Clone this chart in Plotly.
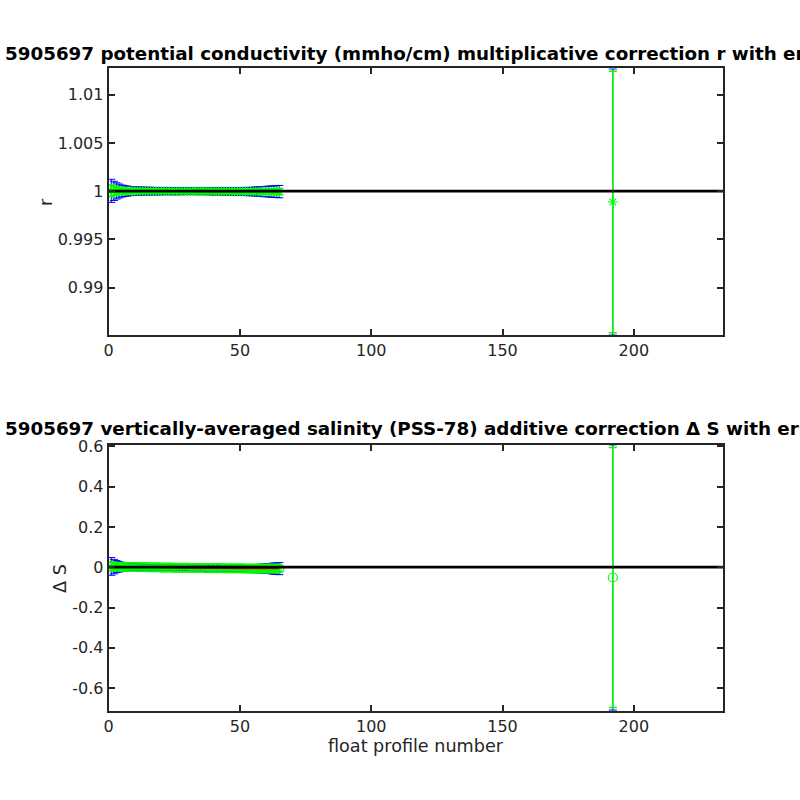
import plotly.graph_objects as go

# ---------------- data ----------------
profiles = [1, 2, 3, 4, 5, 6, 7, 8, 9, 10, 11, 12, 13, 14, 15, 16, 17, 18, 19, 20,
            21, 22, 23, 24, 25, 26, 27, 28, 29, 30, 31, 32, 33, 34, 35, 36, 37, 38, 39, 40,
            41, 42, 43, 44, 45, 46, 47, 48, 49, 50, 51, 52, 53, 54, 55, 56, 57, 58, 59, 60,
            61, 62, 63, 64, 65, 192]

r_factor = [1.00004, 1.00003, 1.00003, 1.00002, 1.00002, 1.00002, 1.00001, 1.00002, 1.00001, 1.00001,
            1.00001, 1.00002, 1.00001, 1.00001, 1.00000, 1.00001, 1.00001, 1.00000, 1.00001, 1.00000,
            1.00000, 1.00001, 1.00000, 0.99999, 1.00000, 1.00000, 0.99999, 1.00000, 0.99999, 0.99999,
            1.00000, 0.99999, 0.99999, 0.99998, 0.99999, 0.99999, 0.99998, 0.99999, 0.99998, 0.99998,
            0.99999, 0.99998, 0.99998, 0.99997, 0.99998, 0.99998, 0.99997, 0.99998, 0.99997, 0.99997,
            0.99998, 0.99997, 0.99997, 0.99996, 0.99997, 0.99997, 0.99996, 0.99997, 0.99996, 0.99996,
            0.99997, 0.99996, 0.99996, 0.99996, 0.99996, 0.99888]

r_err = [0.00060, 0.00050, 0.00042, 0.00036, 0.00031, 0.00028, 0.00026, 0.00024, 0.00023, 0.00022,
         0.00022, 0.00021, 0.00021, 0.00020, 0.00020, 0.00020, 0.00019, 0.00019, 0.00019, 0.00019,
         0.00018, 0.00018, 0.00018, 0.00018, 0.00018, 0.00018, 0.00018, 0.00017, 0.00017, 0.00017,
         0.00017, 0.00017, 0.00017, 0.00017, 0.00017, 0.00017, 0.00017, 0.00017, 0.00018, 0.00018,
         0.00018, 0.00018, 0.00018, 0.00018, 0.00019, 0.00019, 0.00019, 0.00019, 0.00020, 0.00020,
         0.00020, 0.00021, 0.00021, 0.00022, 0.00022, 0.00023, 0.00024, 0.00025, 0.00026, 0.00027,
         0.00028, 0.00029, 0.00030, 0.00031, 0.00032, 0.01356]

r_err_blue = [0.00120, 0.00100, 0.00084, 0.00072, 0.00062, 0.00056, 0.00052, 0.00048, 0.00046, 0.00044,
              0.00044, 0.00042, 0.00042, 0.00040, 0.00040, 0.00040, 0.00038, 0.00038, 0.00038, 0.00038,
              0.00036, 0.00036, 0.00036, 0.00036, 0.00036, 0.00036, 0.00036, 0.00034, 0.00034, 0.00034,
              0.00034, 0.00034, 0.00034, 0.00034, 0.00034, 0.00034, 0.00034, 0.00034, 0.00036, 0.00036,
              0.00036, 0.00036, 0.00036, 0.00036, 0.00038, 0.00038, 0.00038, 0.00038, 0.00040, 0.00040,
              0.00040, 0.00042, 0.00042, 0.00044, 0.00044, 0.00046, 0.00048, 0.00050, 0.00052, 0.00054,
              0.00056, 0.00058, 0.00060, 0.00062, 0.00064, 0.01380]

dS = [0.004, 0.003, 0.003, 0.002, 0.002, 0.002, 0.001, 0.001, 0.001, 0.001,
      0.000, 0.000, 0.000, 0.000, -0.001, -0.001, -0.001, -0.001, -0.001, -0.002,
      -0.002, -0.002, -0.002, -0.002, -0.003, -0.003, -0.003, -0.003, -0.003, -0.003,
      -0.004, -0.004, -0.004, -0.004, -0.004, -0.004, -0.005, -0.005, -0.005, -0.005,
      -0.005, -0.005, -0.005, -0.006, -0.006, -0.006, -0.006, -0.006, -0.006, -0.006,
      -0.006, -0.007, -0.007, -0.007, -0.007, -0.007, -0.007, -0.007, -0.007, -0.007,
      -0.007, -0.007, -0.007, -0.007, -0.007, -0.051]

dS_err = [0.022, 0.018, 0.015, 0.013, 0.011, 0.010, 0.009, 0.009, 0.008, 0.008,
          0.008, 0.008, 0.007, 0.007, 0.007, 0.007, 0.007, 0.007, 0.007, 0.007,
          0.007, 0.007, 0.007, 0.007, 0.007, 0.007, 0.007, 0.007, 0.007, 0.007,
          0.007, 0.007, 0.007, 0.007, 0.007, 0.007, 0.007, 0.007, 0.007, 0.007,
          0.007, 0.007, 0.007, 0.007, 0.007, 0.008, 0.008, 0.008, 0.008, 0.008,
          0.008, 0.009, 0.009, 0.009, 0.010, 0.010, 0.010, 0.011, 0.011, 0.012,
          0.012, 0.013, 0.014, 0.014, 0.015, 0.645]

dS_err_blue = [0.044, 0.036, 0.030, 0.026, 0.022, 0.020, 0.018, 0.018, 0.016, 0.016,
               0.016, 0.016, 0.014, 0.014, 0.014, 0.014, 0.014, 0.014, 0.014, 0.014,
               0.014, 0.014, 0.014, 0.014, 0.014, 0.014, 0.014, 0.014, 0.014, 0.014,
               0.014, 0.014, 0.014, 0.014, 0.014, 0.014, 0.014, 0.014, 0.014, 0.014,
               0.014, 0.014, 0.014, 0.014, 0.014, 0.016, 0.016, 0.016, 0.016, 0.016,
               0.016, 0.018, 0.018, 0.018, 0.020, 0.020, 0.020, 0.022, 0.022, 0.024,
               0.024, 0.026, 0.028, 0.028, 0.030, 0.658]

float_id = "5905697"
title_top = f"{float_id} potential conductivity (mmho/cm) multiplicative correction r with errors"
title_bot = f"{float_id} vertically-averaged salinity (PSS-78) additive correction \u0394 S with errors"
x_ticks = [0, 50, 100, 150, 200]
r_ticks = [0.99, 0.995, 1, 1.005, 1.01]
r_ticktext = ["0.99", "0.995", "1", "1.005", "1.01"]
s_ticks = [-0.6, -0.4, -0.2, 0, 0.2, 0.4, 0.6]
s_ticktext = ["-0.6", "-0.4", "-0.2", "0", "0.2", "0.4", "0.6"]
x_range = [0, 234]
r_range = [0.985102, 1.012755]
s_range = [-0.714, 0.606]
ref_r = 1
ref_s = 0


def gapped(vals):
    # break the line between the contiguous profiles and the isolated one
    out = []
    for i, v in enumerate(vals):
        if i > 0 and profiles[i] - profiles[i - 1] > 1:
            out.append(None)
        out.append(v)
    return out


xg = gapped(profiles)
AX = "#262626"
FONT = "DejaVu Sans, Liberation Sans, sans-serif"

fig = go.Figure()


def add_panel(vals, err_g, err_b, symbol, msize, ref, xa, ya):
    fig.add_trace(go.Scatter(
        x=xg, y=gapped(vals), mode="lines", xaxis=xa, yaxis=ya,
        line=dict(color="#0000ff", width=1),
        error_y=dict(type="data", array=gapped(err_b), symmetric=True,
                     color="#0000ff", thickness=1, width=4),
        showlegend=False, hoverinfo="skip"))
    fig.add_trace(go.Scatter(
        x=xg, y=gapped(vals), mode="lines+markers", xaxis=xa, yaxis=ya,
        line=dict(color="#00ff00", width=1),
        marker=dict(symbol=symbol, size=msize, color="#00ff00",
                    line=dict(color="#00ff00", width=1.2)),
        error_y=dict(type="data", array=gapped(err_g), symmetric=True,
                     color="#00ff00", thickness=1.6, width=4),
        showlegend=False, hoverinfo="skip"))
    fig.add_trace(go.Scatter(
        x=xg, y=gapped(vals), mode="lines", xaxis=xa, yaxis=ya,
        line=dict(color="#ff0000", width=1.5),
        showlegend=False, hoverinfo="skip"))
    fig.add_trace(go.Scatter(
        x=x_range, y=[ref, ref], mode="lines", xaxis=xa, yaxis=ya,
        line=dict(color="#000000", width=2.8),
        showlegend=False, hoverinfo="skip"))


add_panel(r_factor, r_err, r_err_blue, "asterisk-open", 8, ref_r, "x", "y")
add_panel(dS, dS_err, dS_err_blue, "circle-open", 9, ref_s, "x2", "y2")

W = 800.0


def px(p):
    return p / W


def py(p):
    return 1 - p / W


xdom = [px(104.3), px(722.6)]
axis_common = dict(showline=True, linecolor=AX, linewidth=2, mirror="ticks",
                   ticks="inside", ticklen=6, tickwidth=2, tickcolor=AX,
                   showgrid=False, zeroline=False,
                   tickfont=dict(family=FONT, size=16, color=AX))

fig.update_layout(
    width=800, height=800,
    margin=dict(l=0, r=0, t=0, b=0),
    paper_bgcolor="white", plot_bgcolor="white",
    font=dict(family=FONT, color=AX),
    xaxis=dict(domain=xdom, range=x_range, tickvals=x_ticks, anchor="y", **axis_common),
    yaxis=dict(domain=[py(330.2), py(60.8)], range=r_range, tickvals=r_ticks,
               ticktext=r_ticktext, anchor="x", **axis_common),
    xaxis2=dict(domain=xdom, range=x_range, tickvals=x_ticks, anchor="y2", **axis_common),
    yaxis2=dict(domain=[py(710.2), py(441.5)], range=s_range, tickvals=s_ticks,
                ticktext=s_ticktext, anchor="x2", **axis_common),
)

xc = px((103.5 + 723.4) / 2)
ann = [
    dict(text=f"<b>{title_top}</b>", x=px(-2), y=py(46), xanchor="left",
         font=dict(size=18.3, color="#000000")),
    dict(text=f"<b>{title_bot}</b>", x=px(-2), y=py(425), xanchor="left",
         font=dict(size=18.3, color="#000000")),
    dict(text="r", x=px(40.7), y=py(195.5), textangle=-90, font=dict(size=17.6, color=AX)),
    dict(text="\u0394 S", x=px(56), y=py(576), textangle=-90, font=dict(size=17.6, color=AX)),
    dict(text="float profile number", x=xc, y=py(745), font=dict(size=17.6, color=AX)),
]
for a in ann:
    a.setdefault("xanchor", "center")
    a.update(xref="paper", yref="paper", yanchor="middle", showarrow=False)
    a["font"]["family"] = FONT
fig.update_layout(annotations=ann)

# place the 800x800 figure flush with the window's top-left corner
fig.write_html("out.html", config={"displayModeBar": False},
               post_script="document.body.style.margin='0';document.body.style.overflow='hidden';")
